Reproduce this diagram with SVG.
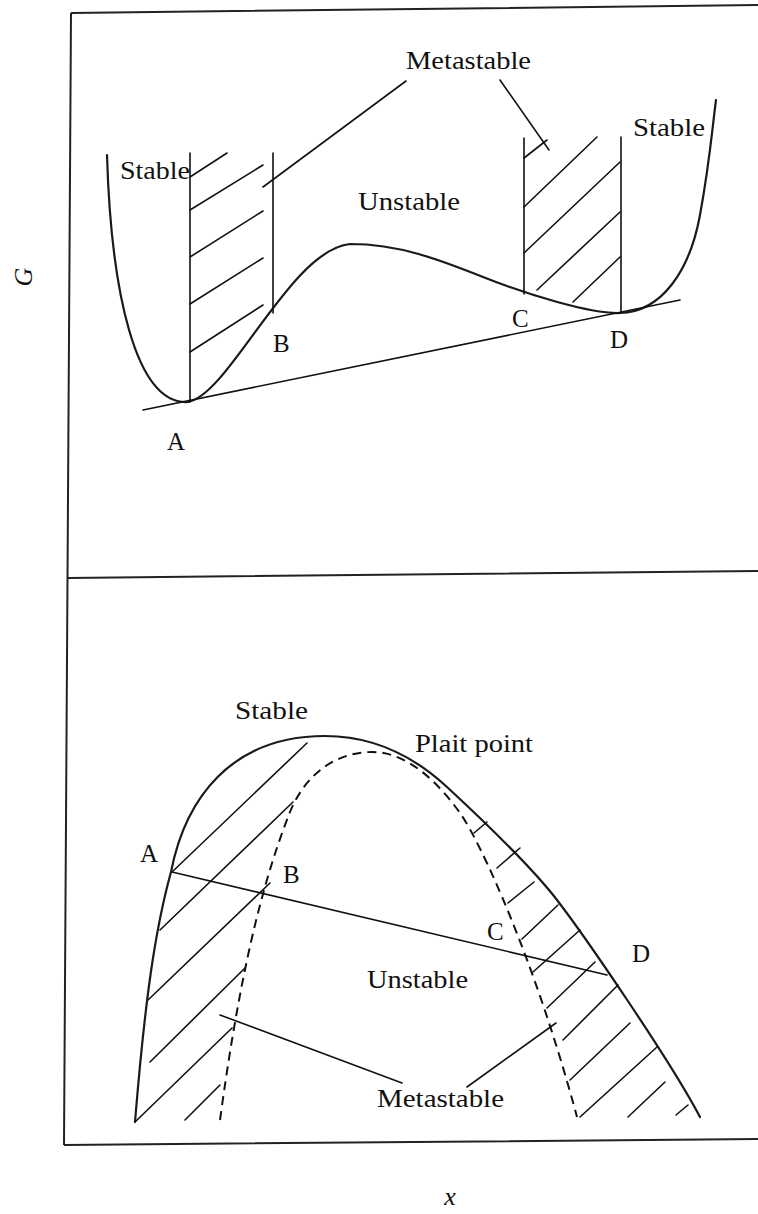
<svg xmlns="http://www.w3.org/2000/svg" width="758" height="1214" viewBox="0 0 758 1214">
<style>
.frame{fill:none;stroke:#222;stroke-width:2}
.curve{fill:none;stroke:#1a1a1a;stroke-width:2.2;stroke-linecap:round;stroke-linejoin:round}
.ln{fill:none;stroke:#111;stroke-width:1.6;stroke-linecap:round}
.dash{fill:none;stroke:#111;stroke-width:2;stroke-dasharray:9 6}
.lbl{font-family:"Liberation Serif","Times New Roman",serif;font-size:25px;fill:#111}
.math{font-family:"Liberation Serif","Times New Roman",serif;font-style:italic;font-size:26px;fill:#111}
</style>
<rect width="758" height="1214" fill="#fff"/>
<g id="frame">
<path class="frame" d="M71,13 L758,5 M71,13 L64,1145 M68,578 L758,571 M64,1145 L758,1139"/>
</g>
<text class="math" transform="translate(32,277) rotate(-90)" text-anchor="middle">G</text>
<text class="math" x="450" y="1205" text-anchor="middle">x</text>
<g id="top-panel">
<path class="curve" d="M107,155 C111,290 135,405 188,402 C230,394 290,250 350,244 C400,244 440,260 483,277 S590,314 620,313 C662,312 690,270 700,215 S712,130 716,100"/>
<path class="ln" d="M143,410 L680,300"/>
<path class="ln" d="M190,153 L190,402 M273,153 L273,313 M524,138 L524,294 M621,137 L621,313"/>
<path class="ln" d="M190,177 L227,153 M190,210 L263,165 M190,257 L263,211 M190,304 L263,258 M190,352 L263,305"/>
<path class="ln" d="M524,158 L547,140 M524,207 L597,137 M524,253 L620,162 M537,290 L620,212 M573,302 L620,257"/>
<g id="top-leaders">
<path class="ln" d="M263,187 L406,81 M500,80 L549,150"/>
</g>
</g>
<g id="bottom-panel">
<path class="curve" d="M135,1122 C145,1000 155,930 171,872 C185,800 230,736 325,736 C380,736 420,762 447,787 S530,865 557,900 S670,1060 700,1117"/>
<path class="dash" d="M220,1120 C235,1010 255,900 290,812 C305,775 335,752 372,752 C409,752 440,785 460,813 C480,841 535,960 577,1117"/>
<path class="ln" d="M172,872 L607,975"/>
<path class="ln" d="M172,872 L307,743 M160,930 L293,802 M148,1000 L270,883 M150,1062 L245,968 M135,1122 L232,1028 M185,1120 L220,1085"/>
<path class="ln" d="M474,833 L487,822 M497,868 L520,848 M508,903 L534,882 M522,939 L558,905 M533,972 L580,930 M547,1008 L595,962 M563,1040 L618,985 M570,1080 L630,1023 M580,1117 L657,1047 M628,1117 L665,1082 M676,1115 L688,1105"/>
<g id="bottom-leaders">
<path class="ln" d="M220,1015 L402,1083 M467,1087 L556,1023"/>
</g>
</g>
<g id="labels">
<text class="lbl" x="406" y="69" textLength="125" lengthAdjust="spacingAndGlyphs">Metastable</text>
<text class="lbl" x="120" y="179" textLength="70" lengthAdjust="spacingAndGlyphs">Stable</text>
<text class="lbl" x="358" y="210" textLength="102" lengthAdjust="spacingAndGlyphs">Unstable</text>
<text class="lbl" x="633" y="136" textLength="72" lengthAdjust="spacingAndGlyphs">Stable</text>
<text class="lbl" x="167" y="450">A</text>
<text class="lbl" x="273" y="352">B</text>
<text class="lbl" x="512" y="327">C</text>
<text class="lbl" x="610" y="348">D</text>
<text class="lbl" x="235" y="719" textLength="73" lengthAdjust="spacingAndGlyphs">Stable</text>
<text class="lbl" x="415" y="752" textLength="118" lengthAdjust="spacingAndGlyphs">Plait point</text>
<text class="lbl" x="140" y="862">A</text>
<text class="lbl" x="283" y="883">B</text>
<text class="lbl" x="487" y="940">C</text>
<text class="lbl" x="632" y="962">D</text>
<text class="lbl" x="367" y="988" textLength="101" lengthAdjust="spacingAndGlyphs">Unstable</text>
<text class="lbl" x="377" y="1107" textLength="127" lengthAdjust="spacingAndGlyphs">Metastable</text>
</g>
</svg>
